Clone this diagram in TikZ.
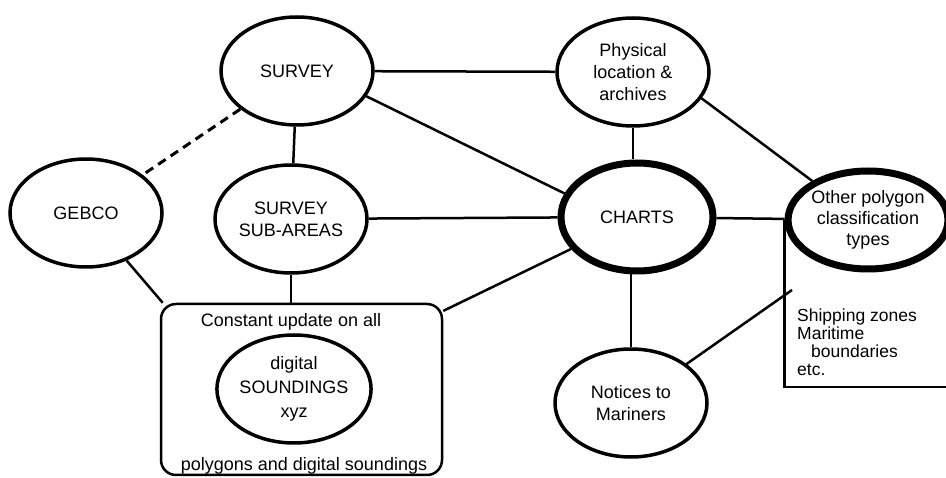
\documentclass[tikz,border=0pt]{standalone}
\usepackage{fontspec}
\setmainfont{Liberation Sans}
\usepackage{tikz}
\usetikzlibrary{positioning, shapes.geometric, calc}

\begin{document}
\begin{tikzpicture}[x=1pt, y=-1pt, font=\fontsize{18}{22}\selectfont,
    bub/.style={ellipse, draw, line width=3.5pt, inner sep=0pt, align=center,
      minimum width=152pt, minimum height=108pt},
    keybub/.style={bub, line width=7pt},
    link/.style={line width=2.5pt},
    updbox/.style={draw, line width=2.5pt, rounded corners=15pt,
      minimum width=281pt, minimum height=171pt}]
  \useasboundingbox (0,0) rectangle (946,478);

  % Ellipses
  \node[bub] (survey) at (297,71) {SURVEY};
  \node[bub] (gebco) at (86,213) {GEBCO};
  \node[bub] (subareas) at (291,219) {SURVEY\\SUB-AREAS};
  \node[bub] (phys) at (633,72) {Physical\\location \&\\archives};
  \node[keybub] (charts) at (637,217) {CHARTS};
  \node[keybub, minimum width=146pt, minimum height=98pt,
    font=\fontsize{18}{21}\selectfont] (other) at (868,220)
    {Other polygon\\classification\\types};
  \node[bub] (notices) at (631,403) {Notices to\\Mariners};

  % Update box with soundings
  \node[updbox] (upd) at (301.5,389.5) {};
  \node (updtop) at (291,322) {Constant update on all};
  \node[bub, font=\fontsize{18}{24}\selectfont] (sound) at (294,389)
    {digital\\SOUNDINGS\\xyz};
  \node (updbot) at (304,466) {polygons and digital soundings};

  % Note under the polygon types
  \node[align=left, anchor=north west, inner sep=0pt,
    font=\fontsize{17.5}{18}\selectfont] (note) at (797,309)
    {Shipping zones\\Maritime\\\hspace*{14pt}boundaries\\etc.};
  \coordinate (corner) at (946,387);
  \coordinate (hook) at (792,290);
  \draw[link] (other.west) |- (corner);

  % Links
  \draw[link] (survey) -- (phys);
  \draw[link] (survey.-20) -- (charts.162);
  \draw[link, line width=3pt, dash pattern=on 9pt off 6pt] (survey) -- (gebco);
  \draw[link] (survey) -- (subareas);
  \draw[link] (subareas) -- (charts);
  \draw[link] (phys.south) -- (phys.south |- charts.north);
  \draw[link] (phys.-21) -- (other.145);
  \draw[link] (charts) -- (other);
  \draw[link] (notices.north) -- (notices.north |- charts.south);
  \draw[link] (notices) -- (hook);
  \draw[link] (gebco) -- (upd.148);
  \draw[link] (subareas.south) -- (subareas.south |- upd.north);
  \draw[link] (charts) -- (upd.29);
\end{tikzpicture}
\end{document}
